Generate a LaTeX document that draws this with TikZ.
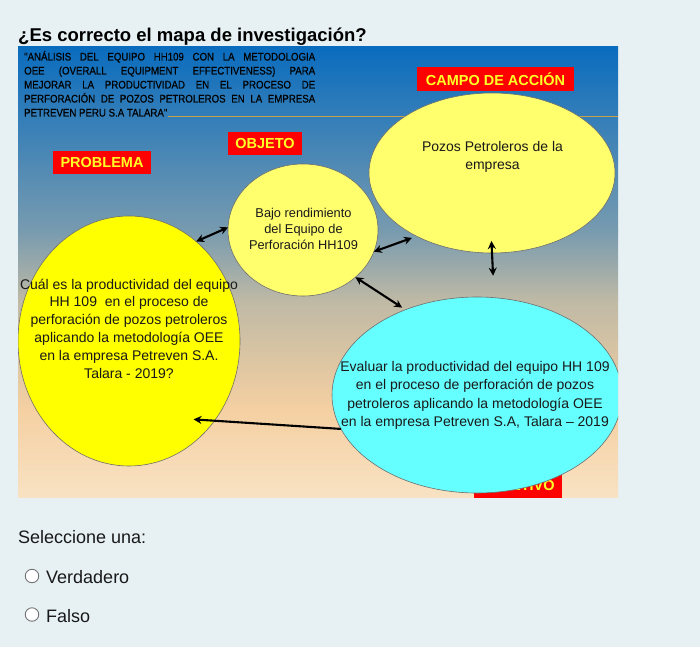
\documentclass[tikz,border=0pt]{standalone}
\usepackage{fontspec}
\setmainfont{Liberation Sans}
\newfontfamily\narrowfont[FakeStretch=0.88,FakeBold=0.5]{Liberation Sans}
\usetikzlibrary{arrows.meta,shapes.geometric}
\definecolor{pagebg}{RGB}{231,241,244}
\definecolor{gA}{RGB}{10,108,190}
\definecolor{gB}{RGB}{120,155,175}
\definecolor{gC}{RGB}{190,185,165}
\definecolor{gD}{RGB}{245,208,162}
\definecolor{gE}{RGB}{248,226,195}
\definecolor{yelLight}{RGB}{255,255,110}
\definecolor{yelBright}{RGB}{255,255,0}
\definecolor{cyanLight}{RGB}{102,255,255}
\definecolor{edgegray}{RGB}{110,110,110}
\definecolor{goldline}{RGB}{200,160,80}
\definecolor{labred}{RGB}{255,0,0}
\definecolor{labyel}{RGB}{255,255,40}
\definecolor{txtdark}{RGB}{25,25,25}
\tikzset{
  ell/.style={ellipse, draw=edgegray, line width=0.6pt, inner sep=0pt, outer sep=0pt},
  lbl/.style={fill=labred, text=labyel, inner sep=0pt, minimum height=23pt,
    font=\bfseries\fontsize{14.5}{14.5}\selectfont},
  txt/.style={inner sep=0pt, align=center, text=txtdark},
  dbl/.style={{Stealth[length=8pt,width=8pt]}-{Stealth[length=8pt,width=8pt]}, line width=2.1pt, black},
  sgl/.style={-{Stealth[length=8pt,width=8pt]}, line width=2.1pt, black},
  radio/.style={circle, draw=gray!90!black, fill=white, line width=0.9pt, minimum size=13.5pt, inner sep=0pt},
  plain/.style={inner sep=0pt, text=txtdark, font=\fontsize{18}{18}\selectfont}
}
\begin{document}
\begin{tikzpicture}[x=1pt,y=-1pt]
\fill[pagebg] (0,0) rectangle (700,647);
\path[use as bounding box] (0,0) rectangle (700,647);

% title
\node[anchor=base west, inner sep=0pt, text=black, font=\bfseries\fontsize{18.5}{18.5}\selectfont] (title) at (18,42) {¿Es correcto el mapa de investigación?};

% panel background
\shade[top color=gA, bottom color=gB] (18,47) rectangle (618,232);
\shade[top color=gB, bottom color=gC] (18,231.5) rectangle (618,300);
\shade[top color=gC, bottom color=gD] (18,299.5) rectangle (618,410);
\shade[top color=gD, bottom color=gE] (18,409.5) rectangle (618,497);

\begin{scope}
\clip (18,47) rectangle (618,497);
% gold line
\coordinate (lineA) at (168,116.5);
\coordinate (lineB) at (618,116.5);
\draw[goldline, line width=0.9pt] (lineA) -- (lineB);

% heading text
\node[anchor=north west, inner sep=0pt, text width=291pt, align=justify, text=black,
  font=\narrowfont\fontsize{11}{14}\selectfont] (head) at (24,50.5)
  {\hyphenpenalty=10000\strut "ANÁLISIS DEL EQUIPO HH109 CON LA METODOLOGIA\linebreak
   OEE (OVERALL EQUIPMENT EFFECTIVENESS) PARA\linebreak
   MEJORAR LA PRODUCTIVIDAD EN EL PROCESO DE\linebreak
   PERFORACIÓN DE POZOS PETROLEROS EN LA EMPRESA\linebreak
   PETREVEN PERU S.A TALARA"};

% labels
\node[lbl, minimum width=98pt] (lprob) at (102,162.5) {PROBLEMA};
\node[lbl, minimum width=74pt] (lobj) at (265,143.5) {OBJETO};
\node[lbl, minimum width=157pt, minimum height=24pt] (lcampo) at (495.5,79) {CAMPO DE ACCIÓN};
\node[lbl, minimum width=88pt, minimum height=26pt] (lobjv) at (518,486) {OBJETIVO};

% ellipses
\node[ell, fill=yelLight, minimum width=246pt, minimum height=160pt] (campo) at (492,173) {};
\node[ell, fill=yelLight, minimum width=150pt, minimum height=132pt] (obj) at (303,230) {};
\node[ell, fill=yelBright, minimum width=222pt, minimum height=250pt] (prob) at (129,341) {};
\node[ell, fill=cyanLight, minimum width=290pt, minimum height=196pt] (objv) at (477,395) {};

% texts
\node[txt, font=\fontsize{14}{18.5}\selectfont] (campotxt) at (492.5,157) {Pozos Petroleros de la\\empresa};
\node[txt, font=\fontsize{12.8}{16}\selectfont] (objtxt) at (303.5,229) {Bajo rendimiento\\del Equipo de\\Perforación HH109};
\node[txt, font=\fontsize{14}{17.8}\selectfont] (probtxt) at (129,328.5) {Cuál es la productividad del equipo\\HH 109\ \ en el proceso de\\perforación de pozos petroleros\\aplicando la metodología OEE\\en la empresa Petreven S.A.\\Talara - 2019?};
\node[txt, font=\fontsize{14}{18.3}\selectfont] (objvtxt) at (475,395.5) {Evaluar la productividad del equipo HH 109\\en el proceso de perforación de pozos\\petroleros aplicando la metodología OEE\\en la empresa Petreven S.A, Talara – 2019};

% connectors
\draw[dbl] (prob.56) -- (obj.178);
\draw[dbl, shorten >=5pt] (obj.-17) -- (campo.220);
\draw[dbl, shorten >=4pt] (obj.-42) -- (objv.130);
\draw[dbl, shorten <=-12pt, shorten >=22pt] (campo.-90) -- (objv.80);
\draw[sgl, shorten >=-21pt] (objv.194.7) -- (prob.-43.6);
\end{scope}

% bottom
\node[plain, anchor=base west] (sel) at (18,543) {Seleccione una:};
\node[radio] (r1) at (32,576) {};
\node[plain, anchor=base west] (verd) at (46,583) {Verdadero};
\node[radio] (r2) at (32,614.5) {};
\node[plain, anchor=base west] (fal) at (46,622.5) {Falso};
\end{tikzpicture}
\end{document}
